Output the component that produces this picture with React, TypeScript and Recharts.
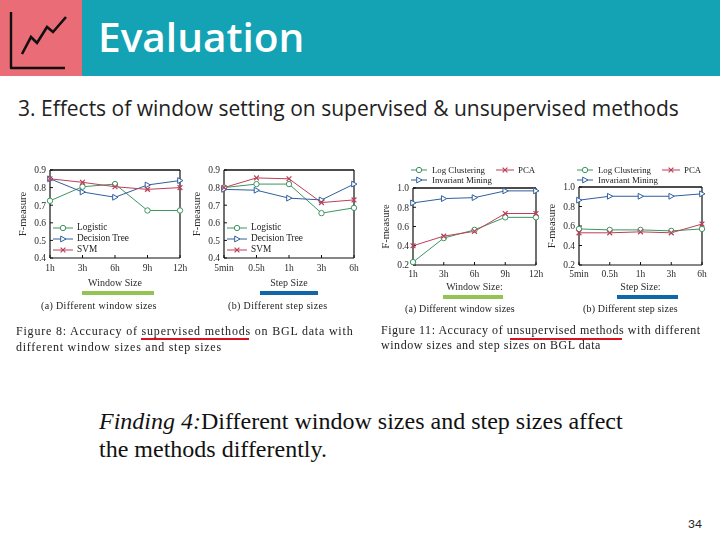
import React from 'react';
import { LineChart, Line, XAxis, YAxis, ReferenceLine } from 'recharts';

const windowCats = ['1h', '3h', '6h', '9h', '12h'];
const stepCats = ['5min', '0.5h', '1h', '3h', '6h'];

const logisticWindow = [0.725, 0.805, 0.82, 0.67, 0.67];
const treeWindow = [0.85, 0.775, 0.745, 0.815, 0.84];
const svmWindow = [0.85, 0.83, 0.805, 0.79, 0.8];
const logisticStep = [0.8, 0.82, 0.82, 0.655, 0.685];
const treeStep = [0.79, 0.785, 0.74, 0.73, 0.82];
const svmStep = [0.8, 0.855, 0.85, 0.715, 0.73];
const clusterWindow = [0.23, 0.48, 0.565, 0.695, 0.695];
const pcaWindow = [0.4, 0.5, 0.55, 0.735, 0.735];
const invariantWindow = [0.845, 0.89, 0.9, 0.97, 0.97];
const clusterStep = [0.57, 0.56, 0.56, 0.55, 0.57];
const pcaStep = [0.53, 0.53, 0.54, 0.53, 0.62];
const invariantStep = [0.865, 0.905, 0.905, 0.905, 0.93];

const supervisedTicks = [0.4, 0.5, 0.6, 0.7, 0.8, 0.9];
const unsupervisedTicks = [0.2, 0.4, 0.6, 0.8, 1.0];

const GREEN = '#3c9560';
const BLUE = '#2f5f9c';
const RED = '#bb3f58';
const SERIF = '"Liberation Serif", serif';
const SANS = '"Open Sans", sans-serif';
const INK = '#2b2b2b';

type Kind = 'circle' | 'tri' | 'x';
type Series = { name: string; kind: Kind; color: string; values: number[] };

function Marker({ cx, cy, kind, color, w = 1 }: { cx: number; cy: number; kind: Kind; color: string; w?: number }) {
  if (kind === 'circle') return <circle cx={cx} cy={cy} r={2.7} fill="#fff" stroke={color} strokeWidth={w} />;
  if (kind === 'tri')
    return <path d={`M${cx - 2.3} ${cy - 2.9}L${cx + 3} ${cy}L${cx - 2.3} ${cy + 2.9}Z`} fill="#fff" stroke={color} strokeWidth={w} />;
  return <path d={`M${cx - 2.4} ${cy - 2.4}L${cx + 2.4} ${cy + 2.4}M${cx - 2.4} ${cy + 2.4}L${cx + 2.4} ${cy - 2.4}`} fill="none" stroke={color} strokeWidth={w + 0.2} />;
}

const supervised = (a: number[], b: number[], c: number[]): Series[] => [
  { name: 'Logistic', kind: 'circle', color: GREEN, values: a },
  { name: 'Decision Tree', kind: 'tri', color: BLUE, values: b },
  { name: 'SVM', kind: 'x', color: RED, values: c },
];
const unsupervised = (a: number[], b: number[], c: number[]): Series[] => [
  { name: 'Log Clustering', kind: 'circle', color: GREEN, values: a },
  { name: 'PCA', kind: 'x', color: RED, values: b },
  { name: 'Invariant Mining', kind: 'tri', color: BLUE, values: c },
];

const BLUR: React.CSSProperties = { filter: 'blur(0.35px)' };

function Mini(props: {
  x: number; y: number; w: number; h: number; cats: string[]; series: Series[];
  domain: [number, number]; ticks: number[]; xLabel: string; axisGap: number; labelOffset: number;
}) {
  const { x, y, w, h, cats, series, domain, ticks, xLabel, axisGap, labelOffset } = props;
  const left = 36, right = 16, top = 6, bottom = 34;
  const rows = cats.map((c, i) => {
    const r: Record<string, string | number> = { cat: c };
    series.forEach((s) => (r[s.name] = s.values[i]));
    return r;
  });
  const tickStyle = { fontFamily: SERIF, fontSize: 9.5, fill: INK };
  const frame = { stroke: '#111', strokeWidth: 1.2 };
  return (
    <div style={{ position: 'absolute', left: x - left, top: y - top, ...BLUR }}>
      <LineChart width={w + left + right} height={h + top + bottom} data={rows} margin={{ left: 0, right, top, bottom: 0 }}>
        <XAxis
          dataKey="cat" height={bottom} interval={0} tick={tickStyle} tickSize={-3} tickMargin={axisGap}
          axisLine={frame} tickLine={{ stroke: '#111' }}
          label={{ value: xLabel, position: 'insideBottom', offset: labelOffset, style: { fontFamily: SERIF, fontSize: 10, fill: INK } }}
        />
        <YAxis
          width={left} domain={domain} ticks={ticks} interval={0} tick={tickStyle} tickSize={-3} tickMargin={7}
          tickFormatter={(v: number) => v.toFixed(1)} axisLine={frame} tickLine={{ stroke: '#111' }}
          label={{ value: 'F-measure', angle: -90, position: 'insideLeft', offset: 8, style: { fontFamily: SERIF, fontSize: 10.5, fill: INK, textAnchor: 'middle' } }}
        />
        <ReferenceLine y={domain[1]} stroke="#111" strokeWidth={1.4} />
        <ReferenceLine x={cats[cats.length - 1]} stroke="#111" strokeWidth={1.2} />
        {series.map((s) => (
          <Line
            key={s.name} dataKey={s.name} stroke={s.color} strokeWidth={1} isAnimationActive={false}
            dot={(p: any) => <Marker key={p.index} cx={p.cx} cy={p.cy} kind={s.kind} color={s.color} />}
          />
        ))}
      </LineChart>
    </div>
  );
}

function LegendRow({ x, y, s, lineW, gap, size = 9.3 }: { x: number; y: number; s: Series; lineW: number; gap: number; size?: number }) {
  return (
    <>
      <svg style={{ position: 'absolute', left: x, top: y - 5, ...BLUR }} width={lineW} height={10}>
        <line x1={0} x2={lineW} y1={5} y2={5} stroke={s.color} strokeWidth={1} />
        <Marker cx={lineW / 2} cy={5} kind={s.kind} color={s.color} />
      </svg>
      <T x={x + lineW + gap} y={y} size={size} family={SERIF} blur>{s.name}</T>
    </>
  );
}

function T(props: { x: number; y: number; size: number; family: string; children: React.ReactNode; color?: string; weight?: number; spacing?: number; blur?: boolean }) {
  const { x, y, size, family, children, color = '#222', weight = 400, spacing = 0, blur } = props;
  return (
    <div style={{
      position: 'absolute', left: x, top: y, transform: 'translateY(-50%)',
      fontFamily: family, fontSize: size, color, fontWeight: weight, letterSpacing: spacing,
      whiteSpace: 'nowrap', lineHeight: 1, ...(blur ? BLUR : {}),
    }}>{children}</div>
  );
}

function Bar({ x, y, w, h, c }: { x: number; y: number; w: number; h: number; c: string }) {
  return <div style={{ position: 'absolute', left: x, top: y, width: w, height: h, background: c }} />;
}

const fig8 = supervised(logisticWindow, treeWindow, svmWindow);
const fig8b = supervised(logisticStep, treeStep, svmStep);
const fig11 = unsupervised(clusterWindow, pcaWindow, invariantWindow);
const fig11b = unsupervised(clusterStep, pcaStep, invariantStep);

export default function App() {
  return (
    <div style={{ position: 'absolute', left: 0, top: 0, width: 720, height: 540, background: '#fff', overflow: 'hidden' }}>
      <Bar x={0} y={0} w={82} h={76} c="#e96c76" />
      <Bar x={82} y={0} w={638} h={76} c="#14a3b4" />
      <svg style={{ position: 'absolute', left: 0, top: 0 }} width={82} height={76}>
        <path d="M11 12V68H65" fill="none" stroke="#111" strokeWidth={2.4} strokeLinejoin="round" />
        <path d="M22 54L31 37L37 43L47 27L53 32L66 17" fill="none" stroke="#111" strokeWidth={2.6} />
      </svg>
      <T x={98} y={37} size={40.6} family={SANS} color="#fff" weight={600}>Evaluation</T>
      <T x={18} y={108} size={21} family={SANS}>3. Effects of window setting on supervised &amp; unsupervised methods</T>

      <Mini x={50} y={170} w={130} h={88} cats={windowCats} series={fig8} domain={[0.4, 0.9]} ticks={supervisedTicks} xLabel="Window Size" axisGap={9} labelOffset={6} />
      <Mini x={224} y={170} w={130} h={88} cats={stepCats} series={fig8b} domain={[0.4, 0.9]} ticks={supervisedTicks} xLabel="Step Size" axisGap={9} labelOffset={6} />
      <Mini x={413} y={188} w={123} h={77} cats={windowCats} series={fig11} domain={[0.2, 1]} ticks={unsupervisedTicks} xLabel="Window Size:" axisGap={8} labelOffset={9} />
      <Mini x={579} y={187} w={123} h={78} cats={stepCats} series={fig11b} domain={[0.2, 1]} ticks={unsupervisedTicks} xLabel="Step Size:" axisGap={8} labelOffset={9} />

      <LegendRow x={53} y={228} s={fig8[0]} lineW={20} gap={4} />
      <LegendRow x={53} y={239} s={fig8[1]} lineW={20} gap={4} />
      <LegendRow x={53} y={250} s={fig8[2]} lineW={20} gap={4} />
      <LegendRow x={227} y={228} s={fig8b[0]} lineW={20} gap={4} />
      <LegendRow x={227} y={239} s={fig8b[1]} lineW={20} gap={4} />
      <LegendRow x={227} y={250} s={fig8b[2]} lineW={20} gap={4} />
      <LegendRow x={411} y={170} s={fig11[0]} lineW={16} gap={5} size={8.8} />
      <LegendRow x={496} y={170} s={fig11[1]} lineW={18} gap={4} size={8.8} />
      <LegendRow x={411} y={180} s={fig11[2]} lineW={16} gap={5} size={8.8} />
      <LegendRow x={577} y={170} s={fig11b[0]} lineW={16} gap={5} size={8.8} />
      <LegendRow x={662} y={170} s={fig11b[1]} lineW={18} gap={4} size={8.8} />
      <LegendRow x={577} y={180} s={fig11b[2]} lineW={16} gap={5} size={8.8} />

      <Bar x={82} y={291} w={72} h={4} c="#92c353" />
      <Bar x={260} y={291} w={58} h={4} c="#0f66a8" />
      <Bar x={443} y={295} w={60} h={4} c="#92c353" />
      <Bar x={617} y={295} w={61} h={4} c="#0f66a8" />

      <T x={41} y={306} size={10} family={SERIF} spacing={0.35} blur>(a) Different window sizes</T>
      <T x={228} y={306} size={10} family={SERIF} spacing={0.35} blur>(b) Different step sizes</T>
      <T x={405} y={309} size={10} family={SERIF} spacing={0.12} blur>(a) Different window sizes</T>
      <T x={583} y={309} size={10} family={SERIF} spacing={0.15} blur>(b) Different step sizes</T>

      <T x={16} y={331} size={12} family={SERIF} spacing={0.8} blur>Figure 8: Accuracy of supervised methods on BGL data with</T>
      <T x={16} y={347} size={12} family={SERIF} spacing={0.75} blur>different window sizes and step sizes</T>
      <T x={381} y={330} size={12} family={SERIF} spacing={0.53} blur>Figure 11: Accuracy of unsupervised methods with different</T>
      <T x={381} y={345} size={12} family={SERIF} spacing={0.55} blur>window sizes and step sizes on BGL data</T>
      <Bar x={141} y={338} w={108} h={2} c="#d8121f" />
      <Bar x={510} y={338} w={112} h={2} c="#d8121f" />

      <T x={99} y={421} size={24} family={SERIF} color="#111"><i>Finding 4:</i>Different window sizes and step sizes affect</T>
      <T x={99} y={449} size={24} family={SERIF} color="#111">the methods differently.</T>
      <T x={688} y={524} size={12} family={'Lato, sans-serif'}>34</T>
    </div>
  );
}
